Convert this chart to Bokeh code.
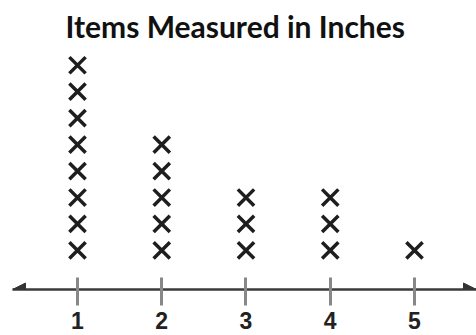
from bokeh.plotting import figure
from bokeh.models import (Range1d, LinearAxis, FixedTicker, Arrow, NormalHead,
                          ColumnDataSource)
from bokeh.embed import file_html
from bokeh.resources import INLINE

# Data
title_text = "Items Measured in Inches"
lengths = [1, 2, 3, 4, 5]          # inches
counts = [8, 5, 3, 3, 1]           # number of items
tick_labels = ["1", "2", "3", "4", "5"]

xs, ys = [], []
for v, c in zip(lengths, counts):
    for k in range(1, c + 1):
        xs.append(v)
        ys.append(k)
src = ColumnDataSource(dict(x=xs, y=ys))

x0, x1 = 0.2285, 5.736
y0, y1 = -0.477, 8.633

p = figure(width=476, height=335, output_backend="svg", toolbar_location=None,
           x_range=Range1d(x0, x1), y_range=Range1d(y0, y1),
           x_axis_location=None, y_axis_location=None,
           min_border_left=12, min_border_right=0, min_border_top=0,
           min_border_bottom=46, outline_line_color=None)
p.grid.visible = False
p.background_fill_color = "white"

p.title.text = title_text
p.title.align = "left"
p.title.text_font = "Lato"
p.title.text_font_style = "bold"
p.title.text_font_size = "30px"
p.title.text_color = "#111111"
p.title.offset = 53

ax = LinearAxis(ticker=FixedTicker(ticks=lengths),
                major_label_overrides={v: t for v, t in zip(lengths, tick_labels)})
ax.axis_line_width = 2.5
ax.axis_line_color = "#3a3a3a"
ax.major_tick_in = 12
ax.major_tick_out = 16
ax.major_tick_line_width = 3
ax.major_tick_line_color = "#888888"
ax.minor_tick_line_color = None
ax.major_label_text_font = "Liberation Sans"
ax.major_label_text_font_style = "bold"
ax.major_label_text_font_size = "23px"
ax.major_label_text_color = "#222222"
ax.major_label_standoff = 6
p.add_layout(ax, "below")

p.scatter("x", "y", source=src, marker="x", size=23, line_width=3.5,
          line_color="#1e1e1e")

for xa, xb in [(x0 + 0.3, x0), (x1 - 0.3, x1)]:
    p.add_layout(Arrow(end=NormalHead(size=13, fill_color="#333333",
                                      line_color="#333333"),
                       x_start=xa, y_start=y0, x_end=xb, y_end=y0,
                       line_alpha=0))

open("out.html", "w").write(file_html(p, INLINE))
